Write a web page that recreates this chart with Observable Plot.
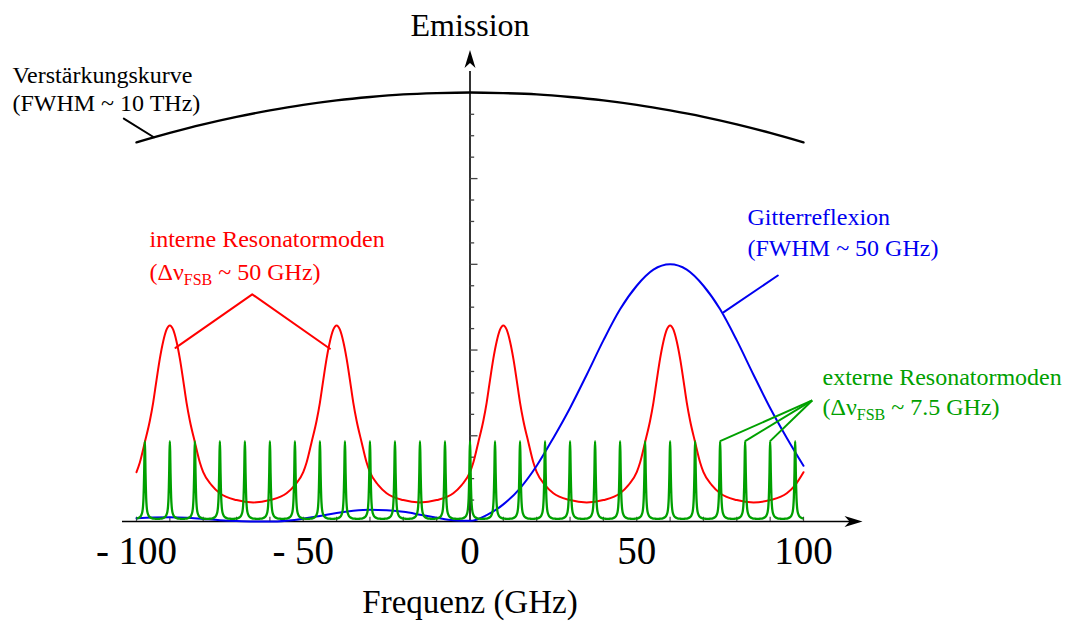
<!DOCTYPE html>
<html>
<head>
<meta charset="utf-8">
<script src="https://cdn.jsdelivr.net/npm/d3@7"></script>
<script src="https://cdn.jsdelivr.net/npm/@observablehq/plot@0.6"></script>
<style>
  html, body { margin: 0; padding: 0; background: #fff; }
  #chart { width: 1074px; height: 621px; }
</style>
</head>
<body>
<div id="chart"></div>
<script>
// ---------------- data (GHz on x, emission units on y) ----------------
const xTickValues = [-100, -50, 0, 50, 100];
const xTickLabels = ["- 100", "- 50", "0", "50", "100"];
const xMinorTicks = [-100, -90, -80, -70, -60, -50, -40, -30, -20, -10, 0, 10, 20, 30, 40, 50, 60, 70, 80, 90, 100];
const yMinorTicks = [1, 2, 3, 5, 6, 7, 9, 10, 11, 13, 14, 15, 17, 18, 19];
const yMajorTicks = [4, 8, 12, 16];
const xAxisExtent = [-104.2, 115];
const yAxisExtent = [0, 21];
const xArrowTip = [117.7];
const yArrowTip = [22];

// gain curve (Verstärkungskurve)
const gainX = [-100, -90, -80, -70, -60, -50, -40, -30, -20, -10, 0, 10, 20, 30, 40, 50, 60, 70, 80, 90, 100];
const gainY = [17.69, 18.13, 18.53, 18.88, 19.18, 19.44, 19.65, 19.81, 19.93, 19.99, 20.02, 19.99, 19.93, 19.81, 19.65, 19.44, 19.18, 18.88, 18.53, 18.13, 17.69];

// grating reflection (Gitterreflexion)
const gratingX = [-100, -95, -90, -85, -80, -75, -70, -65, -60, -55, -50, -45, -40, -35, -30, -25, -20, -15, -10, -5, 0, 5, 10, 15, 20, 25, 30, 35, 40, 45, 50, 55, 60, 65, 70, 75, 80, 85, 90, 95, 100];
const gratingY = [0.15, 0.19, 0.2, 0.18, 0.12, 0.06, 0.02, 0.0, 0.0, 0.04, 0.13, 0.26, 0.4, 0.5, 0.55, 0.53, 0.45, 0.32, 0.18, 0.06, 0.03, 0.3, 0.8, 1.55, 2.6, 3.9, 5.3, 6.85, 8.45, 9.9, 11.0, 11.75, 12.0, 11.75, 11.0, 9.9, 8.45, 6.85, 5.3, 3.9, 2.6];

// internal resonator modes: peak centres and one-sided peak profile (distance from centre -> value)
const internalPeaks = [-90, -40, 10, 60, 110];
const internalProfileD = [0, 1, 2, 3, 4, 5, 6, 7.5, 9, 10, 12.5, 15, 20, 25];
const internalProfileV = [9.15, 8.95, 8.4, 7.6, 6.6, 5.55, 4.7, 3.7, 2.75, 2.3, 1.7, 1.32, 1.0, 0.89];

// external resonator modes: peak centres and one-sided peak profile
const externalPeaks = [-97.5, -90, -82.5, -75, -67.5, -60, -52.5, -45, -37.5, -30, -22.5, -15, -7.5, 0, 7.5, 15, 22.5, 30, 37.5, 45, 52.5, 60, 67.5, 75, 82.5, 90, 97.5];
const externalProfileD = [0, 0.1, 0.2, 0.3, 0.4, 0.55, 0.75, 1.0, 1.5, 2.2, 3.0, 3.75];
const externalProfileV = [3.75, 3.25, 2.3, 1.6, 1.1, 0.7, 0.45, 0.32, 0.2, 0.15, 0.13, 0.12];

// annotation leader lines
const gainLeader = [[-103.8, 18.8], [-94.8, 17.93]];
const internalLeader = [[-88.3, 8.1], [-65.3, 10.6], [-42.0, 8.06]];
const gratingLeader = [[76.1, 9.77], [92.3, 11.48]];
const externalLeaderStarts = [[75, 3.75], [82.5, 3.75], [90, 3.75]];
const externalLeaderEnd = [102.6, 5.65];

// text labels
const gainLabel = ["Verstärkungskurve", "(FWHM ~ 10 THz)"];
const gainLabelPos = [[-137.2, 20.84], [-137.2, 19.49]];
const internalLabel = ["interne Resonatormoden", "(Δν_FSB ~ 50 GHz)"];
const internalLabelPos = [[-96.1, 13.15], [-96.1, 11.65]];
const gratingLabel = ["Gitterreflexion", "(FWHM ~ 50 GHz)"];
const gratingLabelPos = [[83.2, 14.17], [83.2, 12.77]];
const externalLabel = ["externe Resonatormoden", "(Δν_FSB ~ 7.5 GHz)"];
const externalLabelPos = [[105.7, 6.71], [105.7, 5.31]];
const yTitle = "Emission";
const xTitle = "Frequenz (GHz)";

// ---------------- build tables ----------------
const RED = "#ff0000", BLUE = "#0000f0", GREEN = "#00a000";
const FONT = "Liberation Serif, Times New Roman, serif";

function combLine(centers, D, V, lo, hi) {
  const offs = [], vals = [];
  for (let i = D.length - 1; i > 0; i--) { offs.push(-D[i]); vals.push(V[i]); }
  for (let i = 0; i < D.length; i++) { offs.push(D[i]); vals.push(V[i]); }
  const pts = [];
  for (const c of centers) {
    for (let i = 0; i < offs.length; i++) {
      const x = c + offs[i];
      if (x < lo - 1e-9 || x > hi + 1e-9) continue;
      if (pts.length && Math.abs(pts[pts.length - 1].x - x) < 1e-9) continue;
      pts.push({x, y: vals[i]});
    }
  }
  return pts;
}
const gain = gainX.map((x, i) => ({x, y: gainY[i]}));
const grating = gratingX.map((x, i) => ({x, y: gratingY[i]}));
const internal = combLine(internalPeaks, internalProfileD, internalProfileV, -100, 100);
const external = combLine(externalPeaks, externalProfileD, externalProfileV, -100, 100);

const labels = [
  ...gainLabel.map((t, i) => ({t, x: gainLabelPos[i][0], y: gainLabelPos[i][1], c: "black"})),
  ...internalLabel.map((t, i) => ({t, x: internalLabelPos[i][0], y: internalLabelPos[i][1], c: RED})),
  ...gratingLabel.map((t, i) => ({t, x: gratingLabelPos[i][0], y: gratingLabelPos[i][1], c: BLUE})),
  ...externalLabel.map((t, i) => ({t, x: externalLabelPos[i][0], y: externalLabelPos[i][1], c: GREEN}))
];

const arrowRight = {draw(ctx) { ctx.moveTo(0, 0); ctx.lineTo(-18, -5.5); ctx.lineTo(-13, 0); ctx.lineTo(-18, 5.5); ctx.closePath(); }};
const arrowUp = {draw(ctx) { ctx.moveTo(0, 0); ctx.lineTo(-5.5, 18); ctx.lineTo(0, 13); ctx.lineTo(5.5, 18); ctx.closePath(); }};

const chart = Plot.plot({
  width: 1074,
  height: 621,
  marginLeft: 136,
  marginRight: 271,
  marginTop: 49.5,
  marginBottom: 100,
  style: {fontFamily: FONT, background: "#fff", overflow: "visible"},
  x: {domain: [-100, 100]},
  y: {domain: [0, 22], axis: null},
  marks: [
    // axes
    Plot.ruleY([0], {x1: xAxisExtent[0], x2: xAxisExtent[1], stroke: "black", strokeWidth: 1.6}),
    Plot.ruleX([0], {y1: yAxisExtent[0], y2: yAxisExtent[1], stroke: "black", strokeWidth: 1.6}),
    Plot.ruleX(xMinorTicks, {x: d => d, y1: 0, y2: 0.2, stroke: "#444", strokeWidth: 1.2}),
    Plot.ruleY(yMinorTicks, {y: d => d, x1: 0, x2: 1.4, stroke: "#444", strokeWidth: 1.3}),
    Plot.ruleY(yMajorTicks, {y: d => d, x1: 0, x2: 2.4, stroke: "#444", strokeWidth: 1.3}),
    Plot.dot(xArrowTip, {x: d => d, y: 0, symbol: arrowRight, fill: "black", stroke: "none"}),
    Plot.dot(yArrowTip, {x: 0, y: d => d, symbol: arrowUp, fill: "black", stroke: "none"}),
    Plot.axisX(xTickValues, {
      anchor: "bottom", tickSize: 0, tickPadding: 15, fontSize: 39, fontFamily: FONT,
      label: null, color: "black", tickFormat: d => xTickLabels[xTickValues.indexOf(d)]
    }),
    // curves
    Plot.line(gain, {x: "x", y: "y", stroke: "black", strokeWidth: 2.4, curve: "monotone-x"}),
    Plot.line(internal, {x: "x", y: "y", stroke: RED, strokeWidth: 2, curve: "monotone-x"}),
    Plot.line(grating, {x: "x", y: "y", stroke: BLUE, strokeWidth: 2, curve: "monotone-x"}),
    Plot.line(external, {x: "x", y: "y", stroke: GREEN, strokeWidth: 2.3, curve: "monotone-x"}),
    // leaders
    Plot.line(gainLeader, {x: d => d[0], y: d => d[1], stroke: "black", strokeWidth: 2}),
    Plot.line(internalLeader, {x: d => d[0], y: d => d[1], stroke: RED, strokeWidth: 2}),
    Plot.line(gratingLeader, {x: d => d[0], y: d => d[1], stroke: BLUE, strokeWidth: 2}),
    Plot.link(externalLeaderStarts, {x1: d => d[0], y1: d => d[1], x2: externalLeaderEnd[0], y2: externalLeaderEnd[1], stroke: GREEN, strokeWidth: 2}),
    // labels
    Plot.text(labels, {x: "x", y: "y", text: "t", fill: "c", textAnchor: "start", lineAnchor: "middle", fontSize: 24, fontFamily: FONT}),
    Plot.text([yTitle], {frameAnchor: "top", dy: -24.7, lineAnchor: "middle", fontSize: 32, fontFamily: FONT, fill: "black"}),
    Plot.text([xTitle], {frameAnchor: "bottom", dy: 81.4, lineAnchor: "middle", fontSize: 33, fontFamily: FONT, fill: "black"})
  ]
});

// subscripts (Δν_FSB)
d3.select(chart).selectAll("text").each(function () {
  const t = this.textContent;
  if (t.includes("_FSB")) {
    const [a, b] = t.split("_FSB");
    const sel = d3.select(this);
    sel.text(null);
    sel.append("tspan").text(a);
    sel.append("tspan").attr("font-size", 16).attr("dy", 5).text("FSB");
    sel.append("tspan").attr("dy", -5).text(b);
  }
});

document.getElementById("chart").appendChild(chart);
</script>
</body>
</html>
